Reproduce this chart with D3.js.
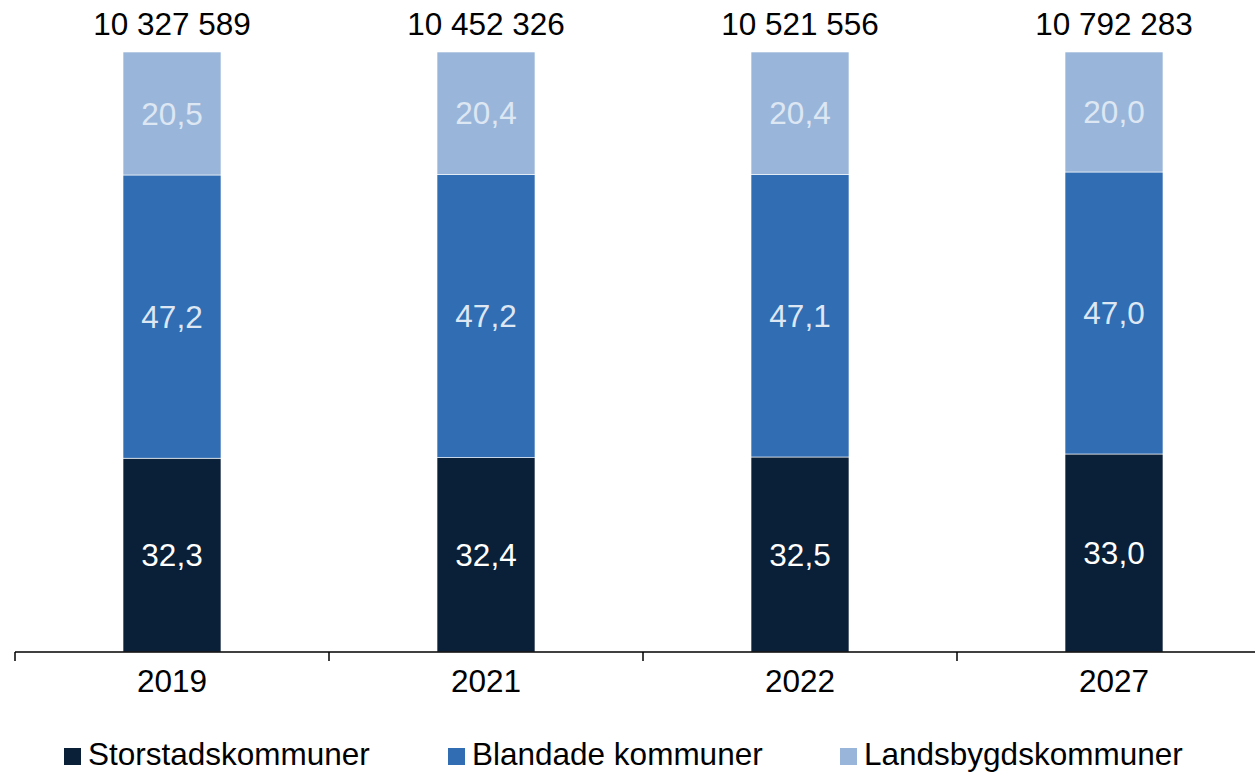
<!DOCTYPE html>
<html>
<head>
<meta charset="utf-8">
<script src="https://cdn.jsdelivr.net/npm/d3@7"></script>
<style>
  html, body { margin: 0; padding: 0; background: #fff; }
  svg { display: block; font-family: "Liberation Sans", Arial, sans-serif; }
</style>
</head>
<body>
<svg id="chart" width="1255" height="772"></svg>
<script>
const categories = ["2019", "2021", "2022", "2027"];
const totals = ["10 327 589", "10 452 326", "10 521 556", "10 792 283"];
const seriesNames = ["Storstadskommuner", "Blandade kommuner", "Landsbygdskommuner"];
const storstad = [32.3, 32.4, 32.5, 33.0];
const blandade = [47.2, 47.2, 47.1, 47.0];
const landsbygd = [20.5, 20.4, 20.4, 20.0];
const colors = ["#0a1f38", "#306db3", "#99b6da"];
const labelColors = ["#ffffff", "#dde7f3", "#dde7f3"];

const svg = d3.select("#chart");
const axisY = 652, topY = 52;
const x0 = 15, step = 314;
const p = 0.688;
const fs = 31.5;

const x = d3.scaleBand()
  .domain(categories)
  .range([x0, x0 + step * categories.length])
  .paddingInner(p)
  .paddingOuter(p / 2);

const y = d3.scaleLinear().domain([0, 100]).range([axisY, topY]);

const rows = categories.map((c, i) => ({
  cat: c, total: totals[i],
  s0: storstad[i], s1: blandade[i], s2: landsbygd[i]
}));
const stack = d3.stack().keys(["s0", "s1", "s2"])(rows);

const fmt = v => v.toFixed(1).replace(".", ",");

stack.forEach((layer, li) => {
  const g = svg.append("g");
  g.selectAll("rect").data(layer).enter().append("rect")
    .attr("x", d => x(d.data.cat))
    .attr("width", x.bandwidth())
    .attr("y", d => y(d[1]))
    .attr("height", d => y(d[0]) - y(d[1]))
    .attr("fill", colors[li])
    .attr("stroke", "#ffffff")
    .attr("stroke-width", 0.6);
  g.selectAll("text").data(layer).enter().append("text")
    .attr("x", d => x(d.data.cat) + x.bandwidth() / 2)
    .attr("y", d => (y(d[0]) + y(d[1])) / 2)
    .attr("dy", "0.35em")
    .attr("text-anchor", "middle")
    .attr("font-size", fs)
    .attr("fill", labelColors[li])
    .text(d => fmt(d[1] - d[0]));
});

// totals
svg.append("g").selectAll("text").data(rows).enter().append("text")
  .attr("x", d => x(d.cat) + x.bandwidth() / 2)
  .attr("y", 35)
  .attr("text-anchor", "middle")
  .attr("font-size", fs)
  .attr("fill", "#000")
  .text(d => d.total);

// axis
const axis = d3.axisBottom(x).tickSize(0).tickPadding(0);
const ag = svg.append("g").attr("transform", `translate(0,${axisY})`).call(axis);
ag.select(".domain").remove();
ag.selectAll("text")
  .attr("font-size", fs)
  .attr("font-family", '"Liberation Sans", Arial, sans-serif')
  .attr("fill", "#000")
  .attr("dy", null)
  .attr("y", 40);
svg.append("line")
  .attr("x1", x0).attr("x2", 1255)
  .attr("y1", axisY).attr("y2", axisY)
  .attr("stroke", "#000").attr("stroke-width", 1.5);
const bounds = d3.range(categories.length + 1).map(i => x0 + i * x.step());
svg.append("g").selectAll("line").data(bounds).enter().append("line")
  .attr("x1", d => d).attr("x2", d => d)
  .attr("y1", axisY).attr("y2", axisY + 9)
  .attr("stroke", "#000").attr("stroke-width", 1.5);

// legend
const legendX = [64, 448, 840];
const lg = svg.append("g");
seriesNames.forEach((n, i) => {
  lg.append("rect").attr("x", legendX[i]).attr("y", 748)
    .attr("width", 17).attr("height", 17).attr("fill", colors[i]);
  lg.append("text").attr("x", legendX[i] + 24).attr("y", 765)
    .attr("font-size", fs).attr("fill", "#000").text(n);
});
</script>
</body>
</html>
